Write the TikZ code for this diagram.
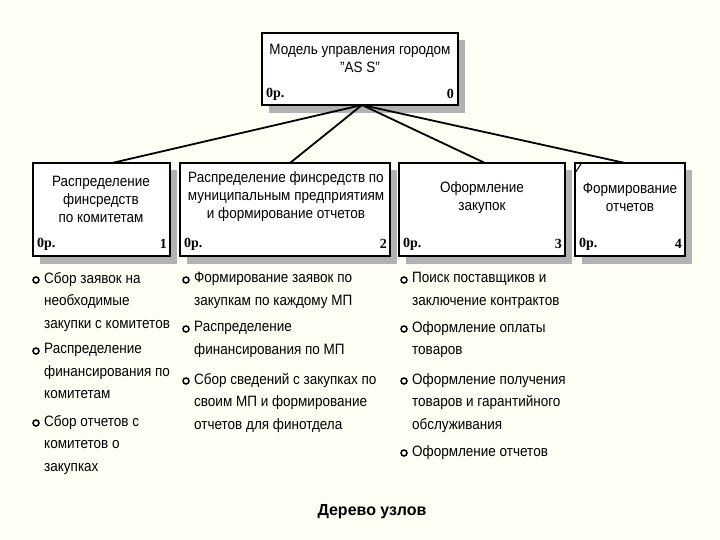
\documentclass[tikz,border=0pt]{standalone}
\usepackage{fontspec}
\setmainfont{Liberation Sans}[FakeStretch=0.9]
\newfontfamily\capf{Liberation Sans}
\newfontfamily\numf{Liberation Serif}
\begin{document}
\begin{tikzpicture}[x=1pt,y=-1pt,
  box/.style={draw,line width=1.6pt,fill=white},
  shad/.style={fill=black!30},
  link/.style={line width=1.8pt},
  lbl/.style={font=\fontsize{15}{18}\selectfont,align=center},
  item/.style={font=\fontsize{15}{22.5}\selectfont,align=left,anchor=north west,inner sep=0pt},
  bul/.style={circle,draw,line width=1.5pt,fill=white,inner sep=0pt,minimum size=6pt},
  tag/.style={font=\numf\bfseries\fontsize{14}{14}\selectfont,inner sep=1pt}]
\fill[yellow!4] (0,0) rectangle (720,540);
\useasboundingbox (0,0) rectangle (720,540);
% shadows
\foreach \a/\b/\c/\d in {262/33/458/105,33/163/170/256,180/163/390/256,399/163/565/256,575/163/685/256}
  \fill[shad] (\a+7,\b+7) rectangle (\c+7,\d+8);
% boxes
\draw[box] (262,33) rectangle (458,105);
\node[lbl] (t0) at (360,58) {Модель управления городом\\"AS S"};
\coordinate (r) at (362,105);
\draw[box] (33,163) rectangle (170,256);
\node[lbl] (t1) at (101,199) {Распределение\\финсредств\\по комитетам};
\draw[box] (180,163) rectangle (390,256);
\node[lbl] (t2) at (286,197) {Распределение финсредств по\\муниципальным предприятиям\\и формирование отчетов};
\draw[box] (399,163) rectangle (565,256);
\node[lbl] (t3) at (482,198) {Оформление\\закупок};
\draw[box] (575,163) rectangle (685,256);
\node[lbl] (t4) at (630,197) {Формирование\\отчетов};
\draw[line width=1pt] (575,173) -- (581,164);
\coordinate (c1) at (112,163);\coordinate (c2) at (290,163);
\coordinate (c3) at (485,163);\coordinate (c4) at (625,163);
\foreach \c in {c1,c2,c3,c4} \draw[link] (r) -- (\c);
% tags
\foreach \x/\y/\n in {265/94/0,36/244/1,183/244/2,402/244/3,578/244/4}
  \node[tag,anchor=west] (o\n) at (\x,\y) {0p.};
\node[tag,anchor=east] (n0) at (455,94) {0};
\node[tag,anchor=east] (n1) at (168,244) {1};
\node[tag,anchor=east] (n2) at (388,244) {2};
\node[tag,anchor=east] (n3) at (563,244) {3};
\node[tag,anchor=east] (n4) at (683,244) {4};
% bullets
\foreach \x/\y/\t [count=\i] in {
 44/272/{Сбор заявок на\\необходимые\\закупки с комитетов},
 44/343/{Распределение\\финансирования по\\комитетам},
 44/415/{Сбор отчетов с\\комитетов о\\закупках},
 194/272/{Формирование заявок по\\закупкам по каждому МП},
 194/321/{Распределение\\финансирования по МП},
 194/373/{Сбор сведений с закупках по\\своим МП и формирование\\отчетов для финотдела},
 412/272/{Поиск поставщиков и\\заключение контрактов},
 412/321/{Оформление оплаты\\товаров},
 412/373/{Оформление получения\\товаров и гарантийного\\обслуживания},
 412/445/{Оформление отчетов}}
{
 \node[item] (i\i) at (\x,\y) {\t};
 \node[bul] (b\i) at (\x-8,\y+8) {};
}
\node[font=\capf\bfseries\fontsize{16}{18}\selectfont] (cap) at (372,512) {Дерево узлов};
\end{tikzpicture}
\end{document}
